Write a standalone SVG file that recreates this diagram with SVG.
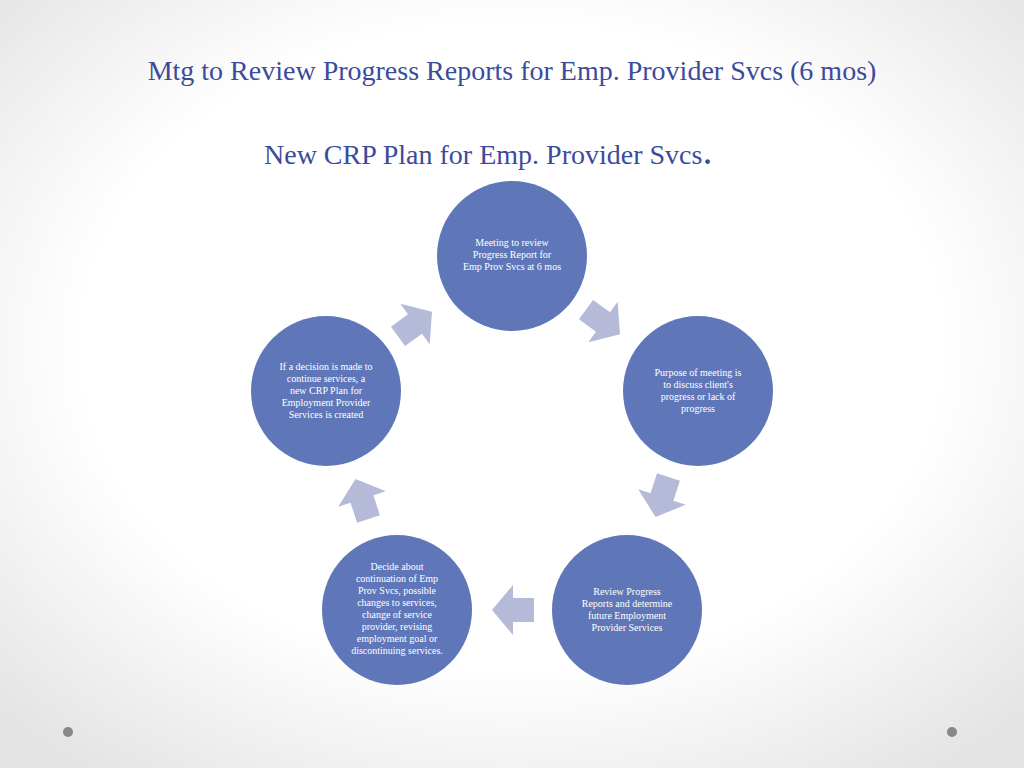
<svg xmlns="http://www.w3.org/2000/svg" width="1024" height="768" viewBox="0 0 1024 768">
<defs>
<radialGradient id="bg" cx="50%" cy="45%" r="70%"><stop offset="0.6" stop-color="#ffffff"/><stop offset="1" stop-color="#e3e3e3"/></radialGradient>
<polygon id="arr" points="-21,-12 0,-12 0,-25 21,0 0,25 0,12 -21,12"/>
</defs>
<style>
.n{fill:#5f77b8}
.a{fill:#b4bad8}
.t{font-family:"Liberation Serif",serif;font-size:10px;fill:#fff;text-anchor:middle}
.h{font-family:"Liberation Serif",serif;fill:#3b4b9b}
</style>
<rect width="1024" height="768" fill="url(#bg)"/>
<text class="h" x="512" y="80" font-size="28" text-anchor="middle">Mtg to Review Progress Reports for Emp. Provider Svcs (6 mos)</text>
<text class="h" x="264" y="164" font-size="28">New CRP Plan for Emp. Provider Svcs<tspan font-size="40">.</tspan></text>
<g id="connectors">
<use href="#arr" class="a" transform="translate(603,322) rotate(36)"/>
<use href="#arr" class="a" transform="translate(662,497) rotate(108)"/>
<use href="#arr" class="a" transform="translate(513,610) rotate(180)"/>
<use href="#arr" class="a" transform="translate(362,499) rotate(252)"/>
<use href="#arr" class="a" transform="translate(415,324) rotate(324)"/>
</g>
<g id="n1"><circle class="n" cx="512" cy="256" r="75"/>
<text class="t" x="512" y="246">Meeting to review</text><text class="t" x="512" y="258">Progress Report for</text><text class="t" x="512" y="270">Emp Prov Svcs at 6 mos</text></g>
<g id="n2"><circle class="n" cx="698" cy="391" r="75"/>
<text class="t" x="698" y="376">Purpose of meeting is</text><text class="t" x="698" y="388">to discuss client's</text><text class="t" x="698" y="400">progress or lack of</text><text class="t" x="698" y="412">progress</text></g>
<g id="n3"><circle class="n" cx="627" cy="610" r="75"/>
<text class="t" x="627" y="595">Review Progress</text><text class="t" x="627" y="607">Reports and determine</text><text class="t" x="627" y="619">future Employment</text><text class="t" x="627" y="631">Provider Services</text></g>
<g id="n4"><circle class="n" cx="397" cy="610" r="75"/>
<text class="t" x="397" y="570">Decide about</text><text class="t" x="397" y="582">continuation of Emp</text><text class="t" x="397" y="594">Prov Svcs, possible</text><text class="t" x="397" y="606">changes to services,</text><text class="t" x="397" y="618">change of service</text><text class="t" x="397" y="630">provider, revising</text><text class="t" x="397" y="642">employment goal or</text><text class="t" x="397" y="654">discontinuing services.</text></g>
<g id="n5"><circle class="n" cx="326" cy="391" r="75"/>
<text class="t" x="326" y="370">If a decision is made to</text><text class="t" x="326" y="382">continue services, a</text><text class="t" x="326" y="394">new CRP Plan for</text><text class="t" x="326" y="406">Employment Provider</text><text class="t" x="326" y="418">Services is created</text></g>
<circle cx="68" cy="732" r="5" fill="#888"/><circle cx="952" cy="732" r="5" fill="#888"/>
</svg>
